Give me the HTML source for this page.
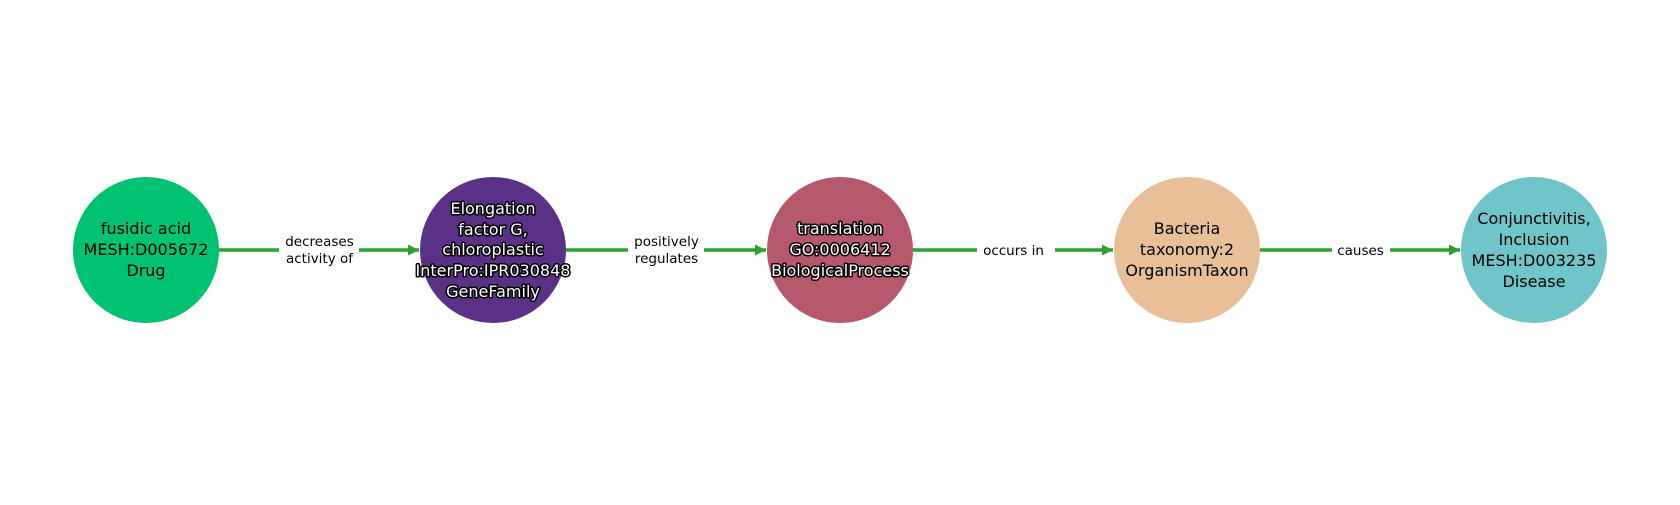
<!DOCTYPE html>
<html><head><style>html,body{margin:0;padding:0;background:#fff}</style></head>
<body>
<svg width="1680" height="500" viewBox="0 0 1680 500" xmlns="http://www.w3.org/2000/svg" font-family="DejaVu Sans, Liberation Sans, sans-serif">
<defs>
<marker id="a" viewBox="0 0 10 10" refX="10" refY="5" markerWidth="3.2" markerHeight="3.2" orient="auto" markerUnits="strokeWidth">
<path d="M0,0 L10,5 L0,10 z" fill="#2ca02c"/></marker>
</defs>
<g stroke="#2ca02c" stroke-width="3.5" marker-end="url(#a)">
<line x1="219" y1="250" x2="419" y2="250"/>
<line x1="566" y1="250" x2="766" y2="250"/>
<line x1="913" y1="250" x2="1113" y2="250"/>
<line x1="1260" y1="250" x2="1460" y2="250"/>
</g>
<circle cx="146" cy="250" r="73" fill="#00c270"/>
<circle cx="493" cy="250" r="73" fill="#5a3186"/>
<circle cx="840" cy="250" r="73" fill="#b5586c"/>
<circle cx="1187" cy="250" r="73" fill="#e8bf96"/>
<circle cx="1534" cy="250" r="73" fill="#70c5ca"/>
<g fill="#fff">
<rect x="279" y="230" width="80" height="40"/>
<rect x="628" y="230" width="76" height="40"/>
<rect x="977" y="240" width="78" height="20"/>
<rect x="1332" y="240" width="58" height="20"/>
</g>
<g font-size="13.5" text-anchor="middle" fill="#000">
<text x="319.5" y="246">decreases</text><text x="319.5" y="263">activity of</text>
<text x="666.5" y="246">positively</text><text x="666.5" y="263">regulates</text>
<text x="1013.5" y="255">occurs in</text>
<text x="1360.5" y="255">causes</text>
</g>
<g font-size="16" text-anchor="middle" fill="#000">
<text x="146" y="234">fusidic acid</text><text x="146" y="255">MESH:D005672</text><text x="146" y="276">Drug</text>
<text x="1187" y="234">Bacteria</text><text x="1187" y="255">taxonomy:2</text><text x="1187" y="276">OrganismTaxon</text>
<text x="1534" y="224">Conjunctivitis,</text><text x="1534" y="245">Inclusion</text><text x="1534" y="266">MESH:D003235</text><text x="1534" y="287">Disease</text>
</g>
<g font-size="16" text-anchor="middle" fill="#fff" stroke="#000" stroke-width="3" paint-order="stroke" stroke-linejoin="round">
<text x="493" y="214">Elongation</text><text x="493" y="235">factor G,</text><text x="493" y="255">chloroplastic</text><text x="493" y="276">InterPro:IPR030848</text><text x="493" y="297">GeneFamily</text>
<text x="840" y="234">translation</text><text x="840" y="255">GO:0006412</text><text x="840" y="276">BiologicalProcess</text>
</g>
</svg>
</body></html>
